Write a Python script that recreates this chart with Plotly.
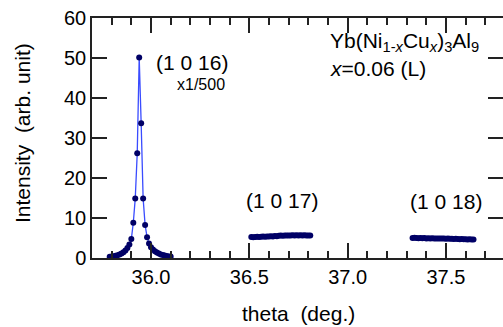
import plotly.graph_objects as go

# (1 0 16) peak, scaled x1/500
x16 = [35.79, 35.80, 35.81, 35.82, 35.83, 35.84, 35.85, 35.86, 35.87, 35.88,
       35.89, 35.90, 35.91, 35.92, 35.93, 35.94, 35.95, 35.96, 35.97, 35.98,
       35.99, 36.00, 36.01, 36.02, 36.03, 36.04, 36.05, 36.06, 36.07, 36.08,
       36.09, 36.10]
y16 = [0.30, 0.35, 0.45, 0.55, 0.70, 0.90, 1.15, 1.45, 1.90, 2.50,
       3.40, 4.75, 8.80, 14.9, 26.2, 50.1, 33.7, 14.9, 8.25, 5.20,
       3.60, 2.70, 2.10, 1.70, 1.35, 1.10, 0.90, 0.75, 0.60, 0.50,
       0.40, 0.35]

# (1 0 17)
x17 = [36.51, 36.52, 36.53, 36.54, 36.55, 36.56, 36.57, 36.58, 36.59, 36.60,
       36.61, 36.62, 36.63, 36.64, 36.65, 36.66, 36.67, 36.68, 36.69, 36.70,
       36.71, 36.72, 36.73, 36.74, 36.75, 36.76, 36.77, 36.78, 36.79, 36.80,
       36.81]
y17 = [5.25, 5.20, 5.25, 5.30, 5.25, 5.30, 5.35, 5.30, 5.40, 5.35,
       5.45, 5.40, 5.50, 5.45, 5.55, 5.60, 5.55, 5.60, 5.65, 5.60,
       5.65, 5.70, 5.65, 5.70, 5.65, 5.70, 5.65, 5.70, 5.65, 5.60,
       5.65]

# (1 0 18)
x18 = [37.33, 37.34, 37.35, 37.36, 37.37, 37.38, 37.39, 37.40, 37.41, 37.42,
       37.43, 37.44, 37.45, 37.46, 37.47, 37.48, 37.49, 37.50, 37.51, 37.52,
       37.53, 37.54, 37.55, 37.56, 37.57, 37.58, 37.59, 37.60, 37.61, 37.62,
       37.63, 37.64]
y18 = [5.00, 5.05, 5.00, 4.95, 5.00, 4.95, 5.00, 4.90, 4.95, 4.90,
       4.95, 4.90, 4.85, 4.90, 4.85, 4.90, 4.85, 4.80, 4.85, 4.80,
       4.80, 4.75, 4.80, 4.75, 4.70, 4.75, 4.70, 4.70, 4.65, 4.70,
       4.65, 4.60]

FONT = "Liberation Sans"
LINE = "#3a4cff"
MARK = "#000066"
AX = "#222222"
XR = [35.7, 37.79]
YR = [0, 60]

fig = go.Figure()
for xs, ys in [(x16, y16), (x17, y17), (x18, y18)]:
    fig.add_trace(go.Scatter(
        x=xs, y=ys, mode="lines+markers",
        line=dict(color=LINE, width=1.3),
        marker=dict(color=MARK, size=6),
        showlegend=False, hoverinfo="skip"))
# invisible trace anchoring the right-hand tick axis
fig.add_trace(go.Scatter(x=x16, y=y16, yaxis="y2", mode="markers",
                         marker=dict(opacity=0), showlegend=False,
                         hoverinfo="skip"))

fig.update_layout(
    width=503, height=327,
    margin=dict(l=92, r=0, t=18, b=69),
    paper_bgcolor="white", plot_bgcolor="white",
    font=dict(family=FONT, size=20, color="black"),
    xaxis=dict(range=XR, dtick=0.5, tick0=36.0, tickformat=".1f",
               ticks="inside", ticklen=15, tickwidth=1.5, tickcolor=AX,
               showline=True, linecolor=AX, linewidth=1.5, mirror="ticks",
               showgrid=False, zeroline=False,
               minor=dict(dtick=0.1, tick0=36.0, ticks="inside", ticklen=7,
                          tickwidth=1.5, tickcolor=AX, showgrid=False),
               tickfont=dict(size=20)),
    yaxis=dict(range=YR, dtick=10,
               ticks="inside", ticklen=15, tickwidth=1.5, tickcolor=AX,
               showline=True, linecolor=AX, linewidth=1.5, mirror=False,
               showgrid=False, zeroline=False,
               tickfont=dict(size=20)),
    yaxis2=dict(range=YR, dtick=10, overlaying="y", side="right",
                anchor="x",
                ticks="inside", ticklen=15, tickwidth=1.5, tickcolor=AX,
                showline=False, showgrid=False, zeroline=False,
                showticklabels=False),
)

ann = [
    dict(x=36.206, y=48.9, text="(1 0 16)", size=21),
    dict(x=36.252, y=43.3, text="x1/500", size=16),
    dict(x=36.666, y=14.5, text="(1 0 17)", size=21),
    dict(x=37.502, y=14.1, text="(1 0 18)", size=21),
]
for a in ann:
    fig.add_annotation(x=a["x"], y=a["y"], xref="x", yref="y", text=a["text"],
                       showarrow=False, xanchor="center", yanchor="middle",
                       font=dict(family=FONT, size=a["size"], color="black"))

fig.add_annotation(x=36.90, y=54.0, xref="x", yref="y",
                   text="Yb(Ni<sub>1-<i>x</i></sub>Cu<sub><i>x</i></sub>)<sub>3</sub>Al<sub>9</sub>",
                   showarrow=False, xanchor="left", yanchor="middle",
                   font=dict(family=FONT, size=21, color="black"))
fig.add_annotation(x=36.90, y=47.5, xref="x", yref="y",
                   text="<i>x</i>=0.06 (L)",
                   showarrow=False, xanchor="left", yanchor="middle",
                   font=dict(family=FONT, size=21, color="black"))

# axis titles (paper coords relative to plot area: x 92..503 px, y 258..18 px)
fig.add_annotation(x=(298 - 92) / 411, y=(258 - 313) / 240, xref="paper", yref="paper",
                   text="theta  (deg.)", showarrow=False, xanchor="center",
                   yanchor="middle", font=dict(family=FONT, size=21, color="black"))
fig.add_annotation(x=(22 - 92) / 411, y=(258 - 133) / 240, xref="paper", yref="paper",
                   text="Intensity  (arb. unit)", showarrow=False, textangle=-90,
                   xanchor="center", yanchor="middle",
                   font=dict(family=FONT, size=21, color="black"))

fig.write_html("out.html")
